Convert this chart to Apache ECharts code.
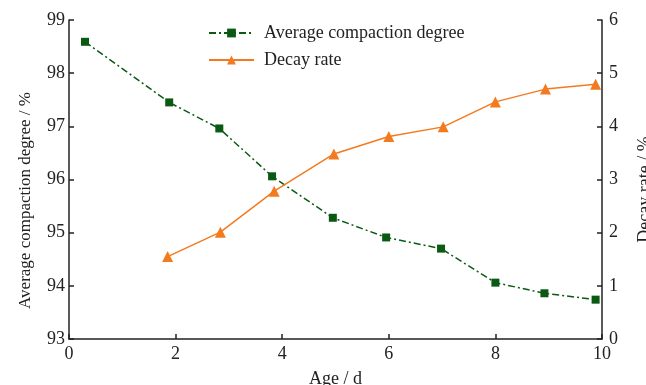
<!DOCTYPE html>
<html>
<head>
<meta charset="utf-8">
<script src="https://cdn.jsdelivr.net/npm/echarts@6/dist/echarts.min.js"></script>
<style>
  html, body { margin: 0; padding: 0; background: #fff; }
  #chart { width: 646px; height: 385px; }
</style>
</head>
<body>
<div id="chart"></div>
<script>
// 读图得到的数据
const ageCompaction = [0.3, 1.88, 2.82, 3.81, 4.95, 5.95, 6.98, 8.0, 8.92, 9.88];
const compaction = [98.59, 97.45, 96.96, 96.06, 95.28, 94.91, 94.70, 94.06, 93.86, 93.74];

const ageDecay = [1.85, 2.84, 3.85, 4.97, 6.0, 7.02, 8.0, 8.94, 9.88];
const decayRate = [1.55, 2.01, 2.78, 3.48, 3.81, 3.99, 4.46, 4.70, 4.79];

const seriesNames = ['Average compaction degree', 'Decay rate'];

const font = "'Liberation Serif', 'Times New Roman', serif";
const green = '#0b5a14';
const orange = '#f47a1f';

function pairs(xs, ys) {
    return xs.map((x, i) => [x, ys[i]]);
}

const axisCommon = {
    axisLine: { show: true, lineStyle: { color: '#222', width: 1.5 } },
    axisTick: { show: true, inside: true, length: 5, lineStyle: { color: '#222', width: 1.5 } },
    splitLine: { show: false },
    axisLabel: { color: '#222', fontFamily: font, fontSize: 18 },
    nameTextStyle: { color: '#222', fontFamily: font, fontSize: 18 }
};

const chart = echarts.init(document.getElementById('chart'));

const option = {
    animation: false,
    backgroundColor: '#fff',
    grid: { left: 69, right: 44, top: 20, bottom: 46, outerBoundsMode: 'none', containLabel: false },
    legend: {
        orient: 'vertical',
        left: 203,
        top: 19,
        itemWidth: 45,
        itemHeight: 11,
        itemGap: 9,
        data: seriesNames,
        textStyle: { color: '#222', fontFamily: font, fontSize: 18, padding: [0, 0, 0, 5] }
    },
    xAxis: Object.assign({}, axisCommon, {
        type: 'value',
        min: 0,
        max: 10,
        interval: 2,
        name: 'Age / d',
        nameLocation: 'middle',
        nameGap: 31,
        axisLabel: Object.assign({}, axisCommon.axisLabel, { margin: 6 })
    }),
    yAxis: [
        Object.assign({}, axisCommon, {
            type: 'value',
            position: 'left',
            min: 93,
            max: 99,
            interval: 1,
            name: 'Average compaction degree / %',
            nameLocation: 'middle',
            nameRotate: 90,
            nameGap: 35,
            nameTextStyle: Object.assign({}, axisCommon.nameTextStyle, { fontSize: 17, padding: [0, 42, 0, 0] }),
            axisLabel: Object.assign({}, axisCommon.axisLabel, { margin: 4 })
        }),
        Object.assign({}, axisCommon, {
            type: 'value',
            position: 'right',
            min: 0,
            max: 6,
            interval: 1,
            name: 'Decay rate / %',
            nameLocation: 'middle',
            nameRotate: 90,
            nameGap: 34,
            nameTextStyle: Object.assign({}, axisCommon.nameTextStyle, { padding: [0, 20, 0, 0] }),
            axisLabel: Object.assign({}, axisCommon.axisLabel, { margin: 7 })
        })
    ],
    series: [
        {
            name: seriesNames[0],
            type: 'line',
            yAxisIndex: 0,
            data: pairs(ageCompaction, compaction),
            symbol: 'rect',
            symbolSize: 8,
            itemStyle: { color: green },
            lineStyle: { color: green, width: 1.5, type: [7, 3, 2, 3] }
        },
        {
            name: seriesNames[1],
            type: 'line',
            yAxisIndex: 1,
            data: pairs(ageDecay, decayRate),
            symbol: 'triangle',
            symbolSize: 11,
            itemStyle: { color: orange },
            lineStyle: { color: orange, width: 1.5 }
        }
    ]
};

chart.setOption(option);
</script>
</body>
</html>
